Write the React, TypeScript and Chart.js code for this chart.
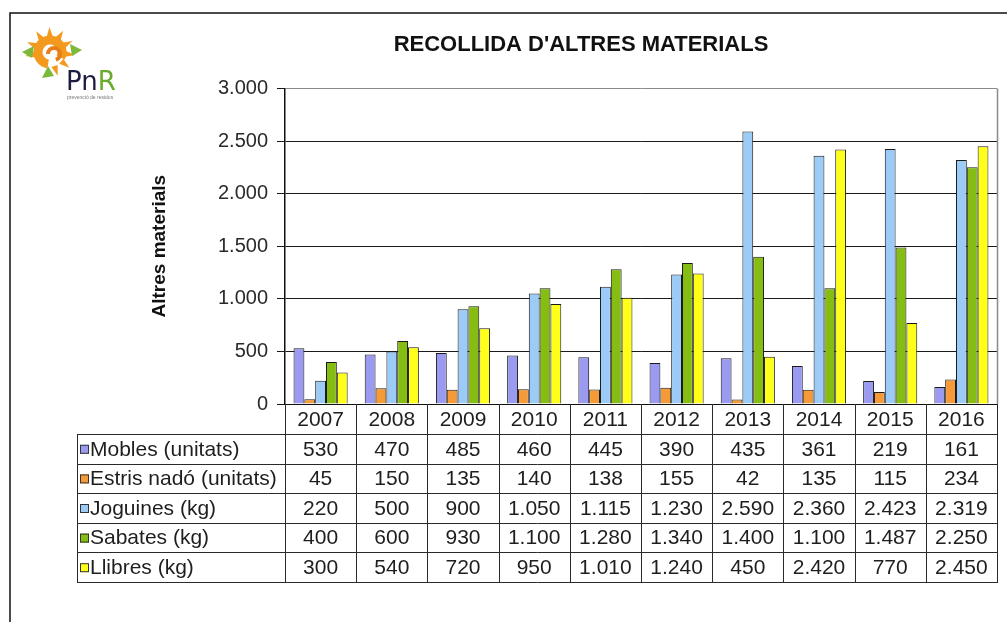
import React, { useEffect, useRef } from 'react';
import { Chart, registerables } from 'chart.js';

Chart.register(...registerables);

const chartTitle = "RECOLLIDA D'ALTRES MATERIALS";
const yAxisTitle = 'Altres materials';
const years = ['2007', '2008', '2009', '2010', '2011', '2012', '2013', '2014', '2015', '2016'];
const seriesNames = ['Mobles (unitats)', 'Estris nadó (unitats)', 'Joguines (kg)', 'Sabates (kg)', 'Llibres (kg)'];
const mobles = [530, 470, 485, 460, 445, 390, 435, 361, 219, 161];
const estris = [45, 150, 135, 140, 138, 155, 42, 135, 115, 234];
const joguines = [220, 500, 900, 1050, 1115, 1230, 2590, 2360, 2423, 2319];
const sabates = [400, 600, 930, 1100, 1280, 1340, 1400, 1100, 1487, 2250];
const llibres = [300, 540, 720, 950, 1010, 1240, 450, 2420, 770, 2450];
const seriesColors = ['#9a9af0', '#f59a36', '#9ccbf7', '#86bd12', '#ffff1a'];
const yMin = 0;
const yMax = 3000;
const yStep = 500;

const fmt = (n: number) => String(n).replace(/\B(?=(\d{3})+(?!\d))/g, '.');

const FONT = '"Liberation Sans", Arial, sans-serif';

const framePlugin = {
  id: 'frame',
  beforeDraw(chart: any) {
    const ctx = chart.ctx;
    ctx.save();
    ctx.fillStyle = '#ffffff';
    ctx.fillRect(0, 0, chart.width, chart.height);
    ctx.strokeStyle = '#111';
    ctx.lineWidth = 1.5;
    ctx.beginPath();
    ctx.moveTo(10, chart.height);
    ctx.lineTo(10, 13);
    ctx.lineTo(chart.width, 13);
    ctx.stroke();
    ctx.restore();
  },
  afterDraw(chart: any) {
    const ctx = chart.ctx;
    const a = chart.chartArea;
    ctx.save();
    ctx.strokeStyle = '#8a8a8a';
    ctx.lineWidth = 1.5;
    ctx.beginPath();
    ctx.moveTo(a.right + 0.5, a.top);
    ctx.lineTo(a.right + 0.5, a.bottom);
    ctx.stroke();
    // logo
    const cx = 50, cy = 52;
    ctx.fillStyle = '#f39a1e';
    for (let k = 0; k < 9; k++) {
      const ang = -Math.PI * 1.05 + k * (Math.PI * 1.45 / 8);
      const w = 0.22;
      ctx.beginPath();
      ctx.moveTo(cx + Math.cos(ang - w) * 15, cy + Math.sin(ang - w) * 15);
      ctx.lineTo(cx + Math.cos(ang) * 25, cy + Math.sin(ang) * 25);
      ctx.lineTo(cx + Math.cos(ang + w) * 15, cy + Math.sin(ang + w) * 15);
      ctx.closePath();
      ctx.fill();
    }
    ctx.strokeStyle = '#f39a1e';
    ctx.lineWidth = 9;
    ctx.beginPath();
    ctx.arc(cx, cy, 12, Math.PI * 0.55, Math.PI * 2.15);
    ctx.stroke();
    ctx.strokeStyle = '#e8801a';
    ctx.lineWidth = 4;
    ctx.beginPath();
    ctx.arc(cx + 4, cy + 2, 6, Math.PI * 1.0, Math.PI * 2.4);
    ctx.stroke();
    ctx.fillStyle = '#7cb83a';
    ctx.beginPath();
    ctx.moveTo(22, 52); ctx.lineTo(34, 46); ctx.lineTo(32, 58); ctx.closePath(); ctx.fill();
    ctx.beginPath();
    ctx.moveTo(82, 50); ctx.lineTo(70, 44); ctx.lineTo(72, 56); ctx.closePath(); ctx.fill();
    ctx.beginPath();
    ctx.moveTo(42, 78); ctx.lineTo(48, 66); ctx.lineTo(54, 76); ctx.closePath(); ctx.fill();
    ctx.font = `26px "DejaVu Sans", sans-serif`;
    ctx.textBaseline = 'alphabetic';
    ctx.textAlign = 'left';
    ctx.fillStyle = '#1c1c40';
    ctx.fillText('Pn', 66, 90);
    const pw = ctx.measureText('Pn').width;
    ctx.fillStyle = '#6aab2e';
    ctx.fillText('R', 66 + pw, 90);
    ctx.font = `5px ${FONT}`;
    ctx.fillStyle = '#777';
    ctx.fillText('prevenció de residus', 67, 99);
    ctx.restore();
  },
};

const tablePlugin = {
  id: 'dataTable',
  afterDraw(chart: any) {
    const ctx = chart.ctx;
    const a = chart.chartArea;
    const xs = chart.scales.x;
    const n = years.length;
    const cw = (a.right - a.left) / n;
    const rowTop = 434;
    const rowH = 29.6;
    const tableLeft = 77;
    const dsets = chart.data.datasets;
    const bottom = rowTop + dsets.length * rowH;
    ctx.save();
    ctx.strokeStyle = '#2a2a2a';
    ctx.lineWidth = 1;
    ctx.beginPath();
    for (let r = 0; r <= dsets.length; r++) {
      const y = Math.round(rowTop + r * rowH) + 0.5;
      ctx.moveTo(tableLeft, y);
      ctx.lineTo(a.right + 1, y);
    }
    for (let i = 0; i <= n; i++) {
      const x = Math.round(a.left + i * cw) + 0.5;
      ctx.moveTo(x, a.bottom);
      ctx.lineTo(x, bottom);
    }
    ctx.moveTo(tableLeft + 0.5, rowTop);
    ctx.lineTo(tableLeft + 0.5, bottom);
    ctx.stroke();

    ctx.textBaseline = 'middle';
    ctx.font = `21px ${FONT}`;
    dsets.forEach((ds: any, r: number) => {
      const yc = rowTop + r * rowH + rowH / 2 + 1;
      ctx.fillStyle = ds.backgroundColor;
      ctx.fillRect(80, yc - 5, 9, 9);
      ctx.strokeStyle = '#333';
      ctx.lineWidth = 1;
      ctx.strokeRect(80.5, yc - 4.5, 8, 8);
      ctx.fillStyle = '#1e1e1e';
      ctx.textAlign = 'left';
      ctx.fillText(ds.label, 90, yc);
      ctx.textAlign = 'center';
      ds.data.forEach((v: number, i: number) => {
        ctx.fillText(fmt(v), xs.getPixelForValue(i), yc);
      });
    });
    ctx.restore();
  },
};

export default function App() {
  const ref = useRef<HTMLCanvasElement | null>(null);
  useEffect(() => {
    if (!ref.current) return;
    const values = [mobles, estris, joguines, sabates, llibres];
    const chart = new Chart(ref.current, {
      type: 'bar',
      data: {
        labels: years,
        datasets: seriesNames.map((name, i) => ({
          label: name,
          data: values[i],
          backgroundColor: seriesColors[i],
          borderColor: '#1a1a1a',
          borderWidth: 1,
          categoryPercentage: 0.76,
          barPercentage: 1.0,
        })),
      },
      options: {
        animation: false,
        responsive: false,
        devicePixelRatio: 1,
        layout: { padding: { left: 165, right: 10, top: 0, bottom: 0 } },
        plugins: {
          legend: { display: false },
          tooltip: { enabled: false },
          title: {
            display: true,
            text: chartTitle,
            color: '#111',
            font: { family: FONT, size: 22, weight: 'bold' },
            padding: { top: 32, bottom: 30 },
          },
        },
        scales: {
          x: {
            grid: { display: false },
            border: { display: true, color: '#111', width: 1 },
            ticks: {
              color: '#1e1e1e',
              font: { family: FONT, size: 21 },
              padding: -4,
              maxRotation: 0,
              autoSkip: false,
            },
            afterFit: (s: any) => { s.height = 218; },
          },
          y: {
            min: yMin,
            max: yMax,
            grid: {
              color: (c: any) => (c.tick && c.tick.value === yMax ? '#8a8a8a' : '#1a1a1a'),
              tickColor: '#1a1a1a',
              tickLength: 8,
              lineWidth: 1,
            },
            border: { display: true, color: '#111', width: 1.5 },
            ticks: {
              stepSize: yStep,
              color: '#2a2a2a',
              font: { family: FONT, size: 20 },
              padding: 9,
              callback: (v: any) => fmt(Number(v)),
            },
            title: {
              display: true,
              text: yAxisTitle,
              color: '#111',
              font: { family: FONT, size: 19, weight: 'bold' },
              padding: { top: -17, bottom: 0 },
            },
            afterFit: (s: any) => { s.width = 120; },
          },
        },
      },
      plugins: [framePlugin, tablePlugin],
    });
    return () => chart.destroy();
  }, []);
  return (
    <div style={{ position: 'absolute', left: 0, top: 0, width: 1007, height: 622, background: '#fff' }}>
      <canvas ref={ref} width={1007} height={622} style={{ display: 'block' }} />
    </div>
  );
}
